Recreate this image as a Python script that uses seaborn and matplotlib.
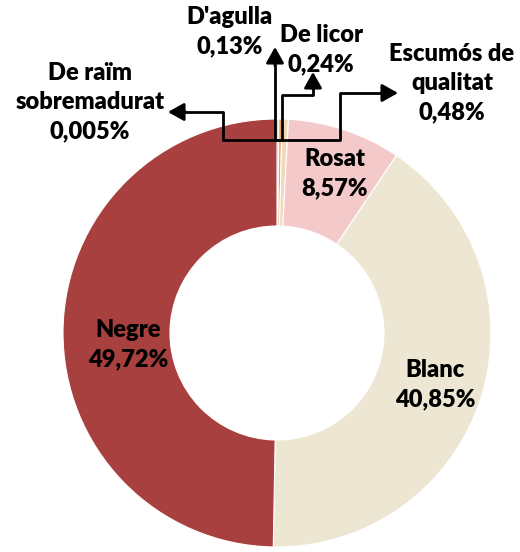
import matplotlib
matplotlib.use("Agg")
import matplotlib.pyplot as plt
import seaborn as sns

categories = ["De raïm\nsobremadurat", "D'agulla", "De licor",
              "Escumós de\nqualitat", "Rosat", "Blanc", "Negre"]
values = [0.005, 0.13, 0.24, 0.48, 8.57, 40.85, 49.72]
value_labels = ["0,005%", "0,13%", "0,24%", "0,48%", "8,57%", "40,85%", "49,72%"]
colors = ["#7a1e1e", "#8e2a28", "#e3a46b", "#f3d9b8", "#f4c9ca", "#ede6d2", "#a8403f"]

sns.set_theme(style="white")
plt.rcParams['font.family'] = ['Lato', 'DejaVu Sans']

fig = plt.figure(figsize=(5.2, 5.52), dpi=100)
ax = fig.add_axes([0, 0, 1, 1])

cx, cy, r = 277, 219, 214
wedges, _ = ax.pie(values, colors=colors, startangle=90, counterclock=False,
                   center=(cx, cy), radius=r, frame=True,
                   wedgeprops=dict(width=r * 0.5, edgecolor='white', linewidth=0.8))
ax.set_xlim(0, 520)
ax.set_ylim(0, 552)
ax.set_aspect('equal')
ax.axis('off')

fs = 17
txt = dict(ha='center', va='center', fontsize=fs, fontweight='heavy',
           color='black', linespacing=1.4)

def Y(y):
    return 552 - y

# labels inside the big slices
ax.text(335, Y(174), categories[4] + "\n" + value_labels[4], **txt)
ax.text(435, Y(385), categories[5] + "\n" + value_labels[5], **txt)
ax.text(128, Y(345), categories[6] + "\n" + value_labels[6], **txt)

# labels for the thin slices
ax.text(90, Y(102), categories[0] + "\n" + value_labels[0], **txt)
ax.text(230, Y(32), categories[1] + "\n" + value_labels[1], **txt)
ax.text(321, Y(50), categories[2] + "\n" + value_labels[2], **txt)
ax.text(452, Y(83), categories[3] + "\n" + value_labels[3], **txt)

lw = 2
arrow = dict(arrowstyle='-|>,head_length=0.8,head_width=0.45', color='black', lw=lw,
             shrinkA=0, shrinkB=0)

# De raïm sobremadurat
ax.plot([278, 223, 223, 185], [Y(140), Y(140), Y(112), Y(112)], color='black', lw=lw)
ax.annotate('', xy=(168, Y(112)), xytext=(186, Y(112)), arrowprops=arrow)
# D'agulla
ax.plot([275, 275], [Y(140), Y(65)], color='black', lw=lw)
ax.annotate('', xy=(275, Y(47)), xytext=(275, Y(66)), arrowprops=arrow)
# De licor
ax.plot([282, 282, 313, 313], [Y(140), Y(95), Y(95), Y(88)], color='black', lw=lw)
ax.annotate('', xy=(313, Y(72)), xytext=(313, Y(89)), arrowprops=arrow)
# Escumós de qualitat
ax.plot([277, 340, 340, 382], [Y(140), Y(140), Y(93), Y(93)], color='black', lw=lw)
ax.annotate('', xy=(398, Y(93)), xytext=(381, Y(93)), arrowprops=arrow)

fig.savefig('out.png', dpi=100)
plt.close(fig)
